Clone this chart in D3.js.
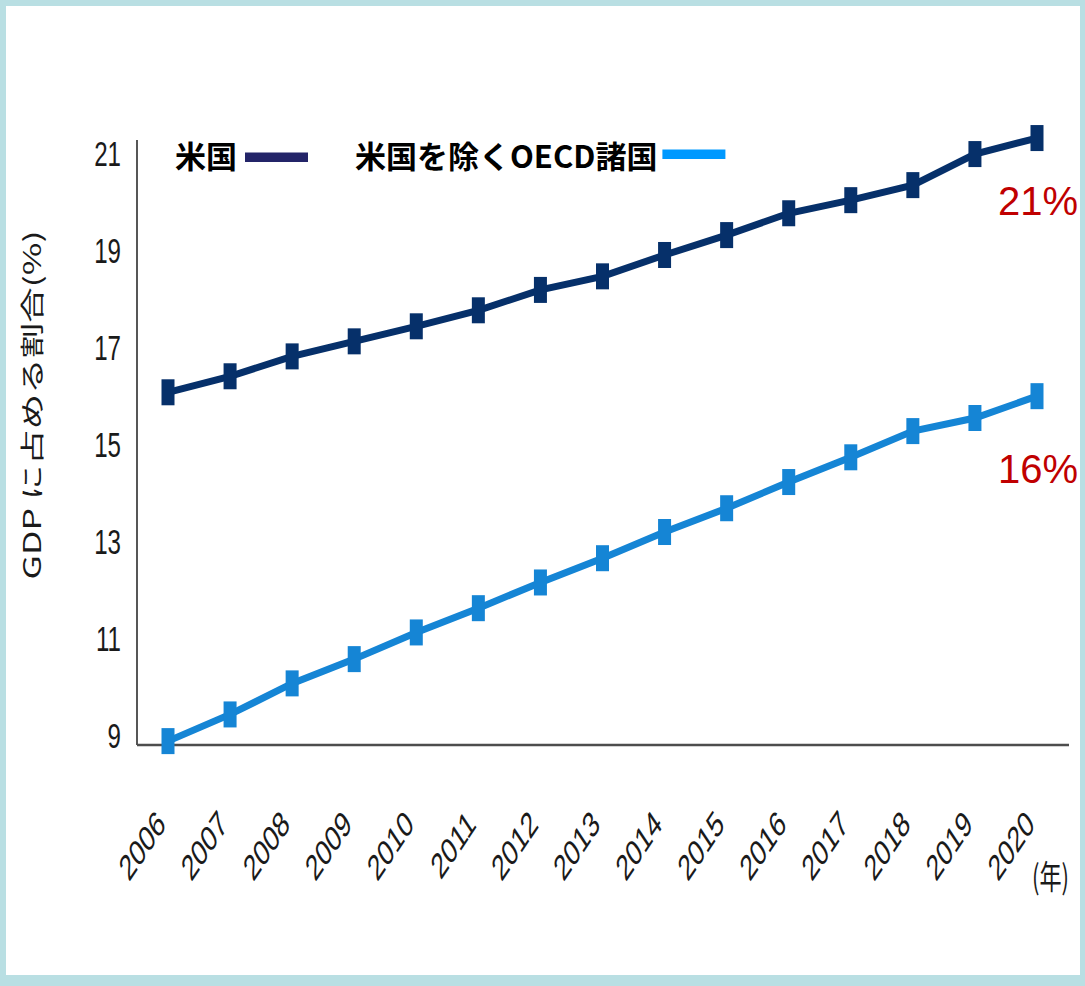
<!DOCTYPE html>
<html>
<head>
<meta charset="utf-8">
<script src="https://cdn.jsdelivr.net/npm/d3@7"></script>
<style>
  body { margin: 0; background: #fff; }
  svg { display: block; }
</style>
</head>
<body>
<div id="chart"></div>
<script>
// data (share of GDP, %)
const years = [2006, 2007, 2008, 2009, 2010, 2011, 2012, 2013, 2014, 2015, 2016, 2017, 2018, 2019, 2020];
const usShare   = [16.07, 16.40, 16.81, 17.12, 17.43, 17.76, 18.18, 18.46, 18.90, 19.31, 19.76, 20.03, 20.34, 20.98, 21.31];
const oecdShare = [8.88, 9.43, 10.07, 10.57, 11.12, 11.62, 12.15, 12.65, 13.19, 13.68, 14.22, 14.73, 15.27, 15.54, 15.99];
const yTicks = [9, 11, 13, 15, 17, 19, 21];
const seriesNames = ["米国", "米国を除くOECD諸国"];
const endLabels = ["21%", "16%"];

const W = 1085, H = 986;
const K = 0.67; // the axis text is squeezed horizontally in the source

const svg = d3.select("#chart").append("svg")
    .attr("width", W).attr("height", H);

// frame
svg.append("rect").attr("width", W).attr("height", H).attr("fill", "#b9dfe3");
svg.append("rect").attr("x", 6).attr("y", 6).attr("width", 1074).attr("height", 969).attr("fill", "#fff");

const x = d3.scalePoint().domain(years).range([168, 1037]);
const y = d3.scaleLinear().domain([8.8, 21.27]).range([745, 140]);

const axisFont = "'Liberation Sans', Arial, sans-serif";
const jpFont = "'Noto Sans CJK JP', sans-serif";

// axes lines
svg.append("line")
    .attr("x1", 137).attr("x2", 137)
    .attr("y1", y.range()[1]).attr("y2", y.range()[0])
    .attr("stroke", "#444").attr("stroke-width", 1.8);
svg.append("line")
    .attr("x1", 137).attr("x2", 1069)
    .attr("y1", y.range()[0]).attr("y2", y.range()[0])
    .attr("stroke", "#4d4d4d").attr("stroke-width", 2.5);

// y tick labels
svg.append("g").selectAll("text")
    .data(yTicks)
    .enter().append("text")
    .attr("transform", d => "translate(121," + y(d) + ") scale(" + K + ",1)")
    .attr("dy", "0.36em")
    .attr("text-anchor", "end")
    .style("font-family", axisFont)
    .style("font-size", "36px")
    .style("fill", "#1a1a1a")
    .text(d => d);

// x tick labels
svg.append("g").selectAll("text")
    .data(years)
    .enter().append("text")
    .attr("transform", d => "translate(" + (x(d) - 1) + ",826) scale(" + K + ",1) rotate(-45)")
    .attr("text-anchor", "end")
    .style("font-family", axisFont)
    .style("font-size", "36px")
    .style("fill", "#1a1a1a")
    .text(d => d);

svg.append("text")
    .attr("transform", "translate(1032,889) scale(" + K + ",1)")
    .style("font-family", jpFont)
    .style("font-size", "33px")
    .style("fill", "#1a1a1a")
    .text("(年)");

// y title
svg.append("text")
    .attr("transform", "translate(41,405) scale(" + K + ",1) rotate(-90)")
    .attr("text-anchor", "middle")
    .style("font-family", jpFont)
    .style("font-size", "35.5px")
    .style("fill", "#1a1a1a")
    .text("GDP に占める割合(%)");

// series
const series = [
    {name: seriesNames[0], values: usShare, color: "#06306a", legendColor: "#232468"},
    {name: seriesNames[1], values: oecdShare, color: "#1585d5", legendColor: "#0099ff"}
];

const line = d3.line()
    .x((d, i) => x(years[i]))
    .y(d => y(d));

series.forEach(s => {
    svg.append("path")
        .datum(s.values)
        .attr("d", line)
        .attr("fill", "none")
        .attr("stroke", s.color)
        .attr("stroke-width", 7);

    svg.append("g").selectAll("rect")
        .data(s.values)
        .enter().append("rect")
        .attr("x", (d, i) => x(years[i]) - 6.5)
        .attr("y", d => y(d) - 13)
        .attr("width", 13)
        .attr("height", 26)
        .attr("fill", s.color);
});

// legend
const legendX = [175, 355];
const legendGap = [8, 5];
const legend = svg.append("g");
series.forEach((s, i) => {
    const t = legend.append("text")
        .attr("x", legendX[i]).attr("y", 168)
        .style("font-family", jpFont)
        .style("font-size", "31px")
        .style("font-weight", "bold")
        .style("fill", "#000")
        .text(s.name);
    const end = legendX[i] + t.node().getComputedTextLength();
    legend.append("rect")
        .attr("x", end + legendGap[i]).attr("y", i == 0 ? 152.5 : 149.5)
        .attr("width", 63).attr("height", 9.5)
        .attr("fill", s.legendColor);
});

// end labels
svg.append("g").selectAll("text")
    .data(endLabels)
    .enter().append("text")
    .attr("x", 998)
    .attr("y", (d, i) => i == 0 ? 215 : 483)
    .style("font-family", axisFont)
    .style("font-size", "40px")
    .style("fill", "#c00000")
    .text(d => d);
</script>
</body>
</html>
